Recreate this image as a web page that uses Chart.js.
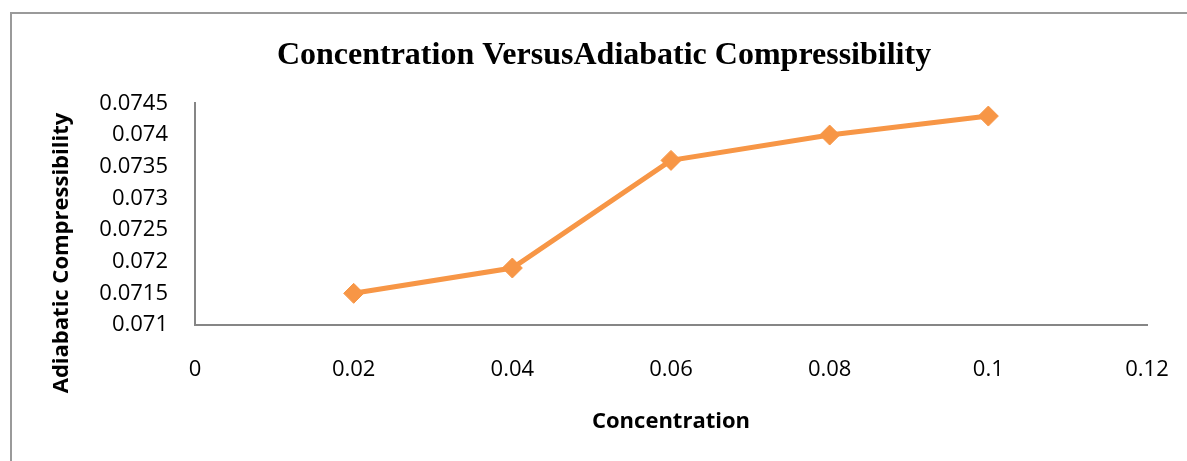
<!DOCTYPE html>
<html>
<head>
<meta charset="utf-8">
<script src="https://cdn.jsdelivr.net/npm/chart.js@4/dist/chart.umd.min.js"></script>
<style>
  html, body { margin: 0; padding: 0; background: #fff; }
  #wrap { position: relative; width: 1187px; height: 461px; overflow: hidden; }
  #frame { position: absolute; left: 10px; top: 12px; width: 1300px; height: 600px;
           border-left: 2px solid #9a9a9a; border-top: 2px solid #9a9a9a; box-sizing: border-box; }
  #chart { position: absolute; left: 0; top: 0; }
</style>
</head>
<body>
<div id="wrap">
  <div id="frame"></div>
  <canvas id="chart" width="1187" height="461"></canvas>
</div>
<script>
// Concentration vs adiabatic compressibility
const concentration = [0.02, 0.04, 0.06, 0.08, 0.1];
const compressibility = [0.0715, 0.0719, 0.0736, 0.0740, 0.0743];

const xTickValues = [0, 0.02, 0.04, 0.06, 0.08, 0.1, 0.12];
const xTickLabels = ['0', '0.02', '0.04', '0.06', '0.08', '0.1', '0.12'];
const yTickValues = [0.071, 0.0715, 0.072, 0.0725, 0.073, 0.0735, 0.074, 0.0745];
const yTickLabels = ['0.071', '0.0715', '0.072', '0.0725', '0.073', '0.0735', '0.074', '0.0745'];

const chartTitle = 'Concentration VersusAdiabatic Compressibility';
const xTitle = 'Concentration';
const yTitle = 'Adiabatic Compressibility';

const points = concentration.map((c, i) => ({ x: c, y: compressibility[i] }));

const tickFont = { family: '"Open Sans", sans-serif', size: 22 };
const axisTitleFont = { family: '"Open Sans", sans-serif', size: 22, weight: 'bold' };
const axisColor = '#868686';

// Rotated y-axis title, centred on the lower part of the frame
const yTitlePlugin = {
  id: 'yTitlePlugin',
  afterDraw(chart) {
    const ctx = chart.ctx;
    ctx.save();
    ctx.translate(62, 253);
    ctx.rotate(-Math.PI / 2);
    ctx.font = 'bold 22px "Open Sans", sans-serif';
    ctx.fillStyle = '#000';
    ctx.textAlign = 'center';
    ctx.textBaseline = 'middle';
    ctx.fillText(yTitle, 0, 0);
    ctx.restore();
  }
};

new Chart(document.getElementById('chart'), {
  type: 'line',
  data: {
    datasets: [{
      data: points,
      borderColor: '#F79646',
      backgroundColor: '#F79646',
      borderWidth: 5,
      tension: 0,
      pointStyle: 'rectRot',
      pointRadius: 10,
      pointBorderWidth: 1,
      pointBackgroundColor: '#F79646',
      pointBorderColor: '#F79646',
      fill: false
    }]
  },
  options: {
    responsive: false,
    animation: false,
    events: [],
    layout: { padding: { left: 61, right: 40, top: 0, bottom: 0 } },
    plugins: {
      legend: { display: false },
      tooltip: { enabled: false },
      title: {
        display: true,
        text: chartTitle,
        color: '#000',
        font: { family: '"Liberation Serif", "Times New Roman", serif', size: 32, weight: 'bold', lineHeight: 1.2 },
        padding: { top: 37, bottom: 28 }
      }
    },
    scales: {
      x: {
        type: 'linear',
        min: 0,
        max: 0.12,
        grid: { display: false, drawTicks: false },
        border: { display: true, color: axisColor, width: 2 },
        afterBuildTicks(scale) { scale.ticks = xTickValues.map(v => ({ value: v })); },
        afterFit(scale) {
          scale.height = 136;
          // label overhang fits inside the layout padding
          scale.paddingLeft = 0;
          scale.paddingRight = 0;
        },
        ticks: {
          color: '#000',
          font: tickFont,
          padding: 32,
          maxRotation: 0,
          autoSkip: false,
          callback: (v, i) => xTickLabels[i]
        },
        title: {
          display: true,
          text: xTitle,
          color: '#000',
          font: axisTitleFont,
          padding: { top: 0, bottom: 26 }
        }
      },
      y: {
        type: 'linear',
        min: 0.071,
        max: 0.0745,
        grid: { display: false, drawTicks: false },
        border: { display: true, color: axisColor, width: 2 },
        afterBuildTicks(scale) { scale.ticks = yTickValues.map(v => ({ value: v })); },
        afterFit(scale) {
          scale.width = 134;
          scale.paddingTop = 0;
          scale.paddingBottom = 0;
        },
        ticks: {
          color: '#000',
          font: tickFont,
          padding: 27,
          autoSkip: false,
          callback: (v, i) => yTickLabels[i]
        }
      }
    }
  },
  plugins: [yTitlePlugin]
});
</script>
</body>
</html>
